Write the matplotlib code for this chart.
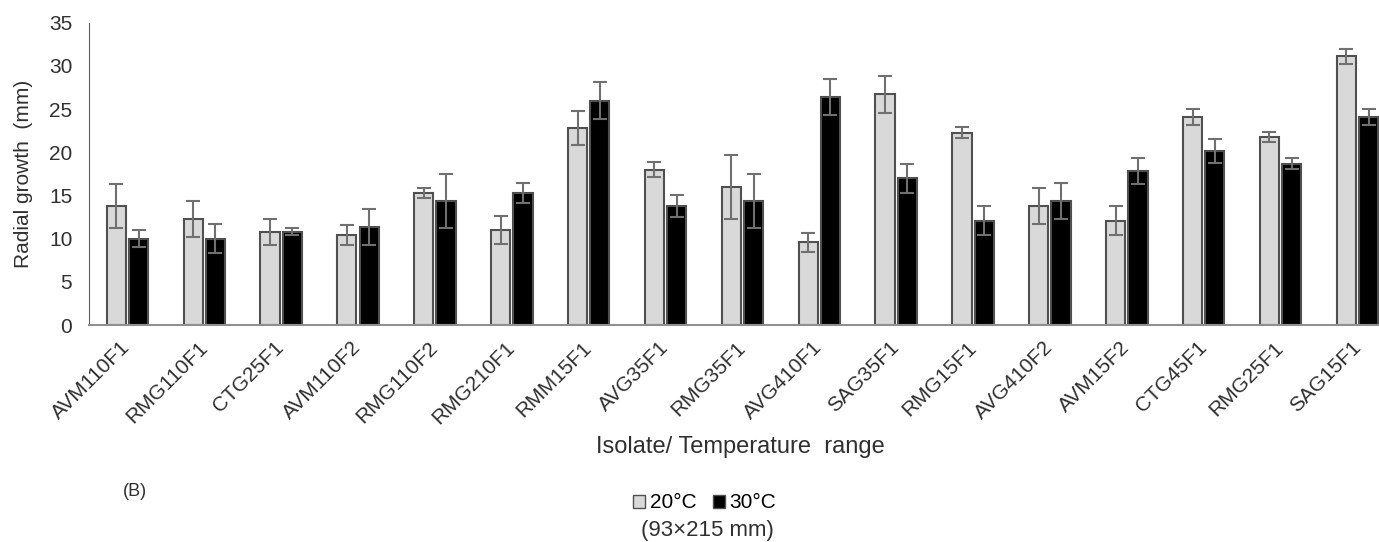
import matplotlib
matplotlib.use('Agg')
import matplotlib.pyplot as plt
import numpy as np
from matplotlib.patches import Patch

plt.rcParams['font.family'] = ['Liberation Sans', 'DejaVu Sans']

isolates = ['AVM110F1', 'RMG110F1', 'CTG25F1', 'AVM110F2', 'RMG110F2', 'RMG210F1',
            'RMM15F1', 'AVG35F1', 'RMG35F1', 'AVG410F1', 'SAG35F1', 'RMG15F1',
            'AVG410F2', 'AVM15F2', 'CTG45F1', 'RMG25F1', 'SAG15F1']
growth_20 = [13.8, 12.3, 10.8, 10.4, 15.3, 11.0, 22.8, 18.0, 16.0, 9.6,
             26.7, 22.3, 13.8, 12.1, 24.1, 21.8, 31.1]
err_20 = [2.5, 2.1, 1.5, 1.15, 0.6, 1.6, 2.0, 0.9, 3.7, 1.1,
          2.1, 0.6, 2.1, 1.7, 0.9, 0.6, 0.9]
growth_30 = [10.0, 10.0, 10.8, 11.35, 14.4, 15.3, 26.0, 13.8, 14.4, 26.4,
             17.0, 12.1, 14.4, 17.8, 20.2, 18.7, 24.1]
err_30 = [1.0, 1.7, 0.4, 2.1, 3.1, 1.2, 2.1, 1.3, 3.1, 2.1,
          1.7, 1.7, 2.1, 1.5, 1.4, 0.6, 0.9]

x = np.arange(len(isolates))
width = 0.25  # ширина столбцов
gap = 0.145

fig = plt.figure(figsize=(13.79, 5.42), dpi=100)
ax = fig.add_axes([0.0645, 0.400, 0.9355, 0.558])

ekw = dict(ecolor='#707070', elinewidth=1.5, capthick=1.5)
ax.bar(x - gap, growth_20, width, color='#d9d9d9', edgecolor='#505050', linewidth=1.5,
       yerr=err_20, capsize=5, error_kw=ekw, label='20°C')
ax.bar(x + gap, growth_30, width, color='black', edgecolor='#505050', linewidth=1.5,
       yerr=err_30, capsize=5, error_kw=ekw, label='30°C')

ax.set_xlim(-0.5, 16.28)
ax.set_ylim(0, 35)
ax.set_yticks(range(0, 36, 5))
ax.set_xticks(x)
ax.set_xticklabels(isolates, rotation=45, ha='right', va='center', rotation_mode='anchor')
ax.tick_params(axis='both', length=0, labelsize=15, labelcolor='#303030')
ax.tick_params(axis='y', pad=12)
ax.tick_params(axis='x', pad=14)

for s in ['top', 'right']:
    ax.spines[s].set_visible(False)
ax.spines['left'].set_color('#606060')
ax.spines['bottom'].set_color('#909090')
ax.spines['bottom'].set_linewidth(1.5)

ax.set_ylabel('Radial growth  (mm)', fontsize=15, color='#303030')
ax.yaxis.set_label_coords(-0.0434, 0.5)

fig.text(0.537, 0.175, 'Isolate/ Temperature  range', ha='center', va='center',
         fontsize=17, color='#303030')
fig.text(0.098, 0.094, '(B)', ha='center', va='center', fontsize=13, color='#303030')

handles = [Patch(facecolor='#d9d9d9', edgecolor='#505050'),
           Patch(facecolor='black', edgecolor='#505050')]
fig.legend(handles, ['20°C', '30°C'], loc='center', bbox_to_anchor=(0.511, 0.072),
           ncol=2, frameon=False, fontsize=15, handlelength=0.6, handleheight=0.6,
           handletextpad=0.2, columnspacing=0.8, borderpad=0)
fig.text(0.513, 0.022, '(93×215 mm)', ha='center', va='center', fontsize=16, color='#303030')

fig.savefig('out.png', dpi=100)
